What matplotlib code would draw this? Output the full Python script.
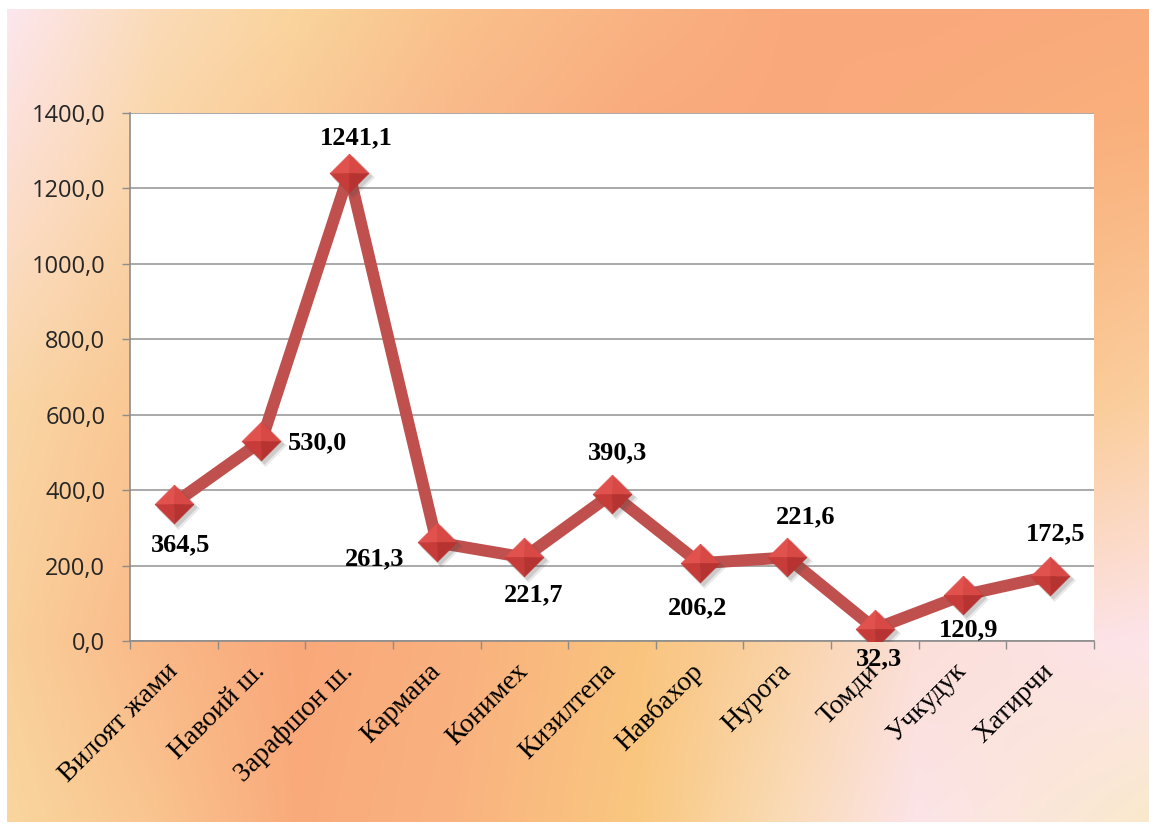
"""Line chart: values by district (Navoi region) on a warm gradient backdrop."""

import matplotlib

matplotlib.use("Agg")
import matplotlib.pyplot as plt
import numpy as np
from matplotlib import transforms
from matplotlib.colors import to_rgb

DISTRICTS = [
    "Вилоят жами", "Навоий ш.", "Зарафшон ш.", "Кармана", "Конимех",
    "Кизилтепа", "Навбахор", "Нурота", "Томди", "Учкудук", "Хатирчи",
]
VALUES = [364.5, 530.0, 1241.1, 261.3, 221.7, 390.3, 206.2, 221.6, 32.3, 120.9, 172.5]
Y_TICKS = [0, 200, 400, 600, 800, 1000, 1200, 1400]

W, H = 1149, 825

# backdrop colour grid (pixel positions inside the gradient panel)
BG_XS = [0, 150, 293, 450, 637, 780, 916, 1149]
BG_YS = [0, 113, 400, 641, 825]
BG_COLORS = [
    ["#fde7ef", "#fadbb8", "#fad49c", "#f9c18c", "#f9b283", "#f9a97b", "#f9a87b", "#f9ab7c"],
    ["#fde1dc", "#fad7aa", "#facb97", "#f9b98a", "#f9ab7d", "#f9a87b", "#f9ab7c", "#f9b07c"],
    ["#f9d6a6", "#f9c590", "#f9b482", "#f9ad7d", "#f9b27e", "#f9bd80", "#f9c27f", "#fbcfa0"],
    ["#f9d09a", "#f9b888", "#f9a87a", "#f9b07f", "#f9c47e", "#fad2a6", "#fbdfd8", "#fde4ea"],
    ["#f9d69e", "#f9c48f", "#f9aa7b", "#f9b380", "#f9c880", "#fadbb5", "#fce4e8", "#fae9cc"],
]

LABEL_OFFSETS = [(4.5, -30), (40, -1.5), (5, 25), (-45, -11.5), (6.5, -27), (4, 29.5),
                 (-1.5, -32), (13, 29), (3, -21.6), (4.5, -24.5), (3.6, 30)]

LINE_COLOR = "#c0504d"
GRID_COLOR = "#a3a3a3"
AXIS_COLOR = "#8c8c8c"


def gradient_image(px_w, px_h):
    grid = np.array([[to_rgb(c) for c in row] for row in BG_COLORS])
    gx = np.linspace(0, W, px_w)
    gy = np.linspace(0, H, px_h)
    rows = np.stack([
        np.stack([np.interp(gx, BG_XS, grid[r, :, ch]) for ch in range(3)], axis=-1)
        for r in range(len(BG_YS))
    ])
    img = np.empty((px_h, px_w, 3))
    for ch in range(3):
        for j in range(px_w):
            img[:, j, ch] = np.interp(gy, BG_YS, rows[:, j, ch])
    return img


def fmt(v):
    return f"{v:.1f}".replace(".", ",")


def main():
    fig = plt.figure(figsize=(W / 100, H / 100), dpi=100, facecolor="white")

    # gradient panel
    left, top, right, bottom = 7, 9, 1149, 822
    bg = fig.add_axes([left / W, (H - bottom) / H, (right - left) / W, (bottom - top) / H])
    bg.imshow(gradient_image(right - left, bottom - top), aspect="auto",
              extent=[0, 1, 0, 1], interpolation="bilinear")
    bg.set_axis_off()

    ax = fig.add_axes([130 / W, (H - 641) / H, (1094 - 130) / W, (641 - 113) / H])
    ax.set_facecolor("white")
    x = np.arange(len(DISTRICTS))

    ax.plot(x, VALUES, color=LINE_COLOR, linewidth=8.6, solid_joinstyle="round",
            solid_capstyle="round", zorder=3)

    # shaded diamond markers: soft drop shadow + four facets
    diamond = [(0, 1), (1, 0), (0, -1), (-1, 0), (0, 1)]
    for dx, size, alpha in [(4, 31, 0.12), (3, 29, 0.18)]:
        shadow_tr = transforms.offset_copy(ax.transData, fig=fig, x=dx, y=-dx, units="dots")
        ax.plot(x, VALUES, ls="none", marker=diamond, ms=size, mfc="#4a4a4a", mec="none",
                alpha=alpha, transform=shadow_tr, zorder=4)
    facets = [
        ([(0, 1), (-1, 0), (0, 0), (0, 1)], "#e1524e"),
        ([(0, 1), (1, 0), (0, 0), (0, 1)], "#d84844"),
        ([(-1, 0), (0, -1), (0, 0), (-1, 0)], "#c73b38"),
        ([(1, 0), (0, -1), (0, 0), (1, 0)], "#b73331"),
    ]
    for verts, color in facets:
        ax.plot(x, VALUES, ls="none", marker=verts, ms=28, mfc=color, mec=color,
                mew=0.4, zorder=5)

    for i, (v, off) in enumerate(zip(VALUES, LABEL_OFFSETS)):
        ax.annotate(fmt(v), (i, v), xytext=off, textcoords="offset points",
                    ha="center", va="center", fontsize=19, fontweight="bold",
                    family="Liberation Serif", color="black", zorder=6)

    ax.set_xlim(-0.5, len(DISTRICTS) - 0.5)
    ax.set_ylim(0, 1400)
    ax.set_yticks(Y_TICKS)
    ax.set_yticklabels([fmt(t) for t in Y_TICKS], fontsize=17, family="Open Sans",
                       color="#262626")
    ax.set_xticks(x)
    ax.set_xticklabels(DISTRICTS, rotation=45, ha="right", va="center",
                       rotation_mode="anchor", fontsize=20, family="Liberation Serif",
                       color="black")
    ax.set_xticks(np.arange(-0.5, len(DISTRICTS), 1), minor=True)
    ax.tick_params(axis="x", which="major", length=0, pad=19)
    ax.tick_params(axis="x", which="minor", length=5.8, width=1, color=AXIS_COLOR,
                   direction="out")
    ax.tick_params(axis="y", length=5.8, width=1, color=AXIS_COLOR, pad=12)

    ax.yaxis.grid(True, color=GRID_COLOR, linewidth=1.3)
    ax.set_axisbelow(True)
    for side in ("top", "right"):
        ax.spines[side].set_visible(False)
    for side in ("left", "bottom"):
        ax.spines[side].set_color(AXIS_COLOR)
        ax.spines[side].set_linewidth(1.2)

    fig.savefig("out.png", dpi=100, facecolor="white")
    plt.close(fig)


if __name__ == "__main__":
    main()
